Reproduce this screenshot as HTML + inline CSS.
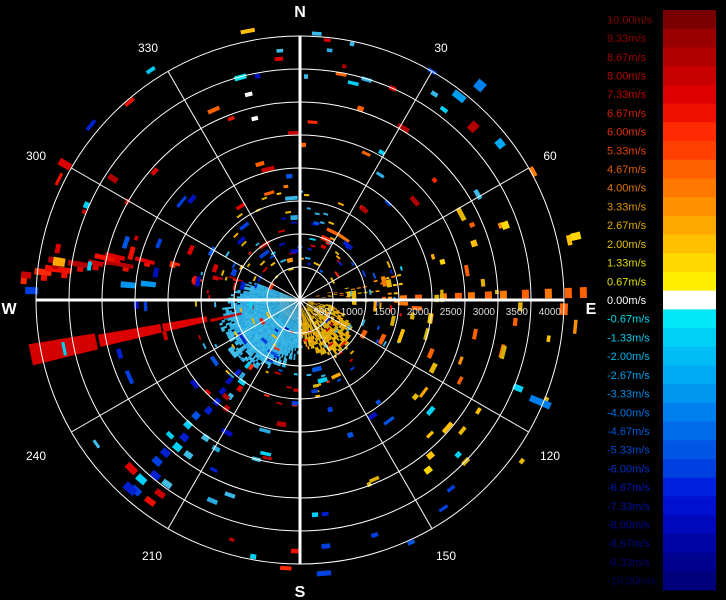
<!DOCTYPE html>
<html><head><meta charset="utf-8"><style>
html,body{margin:0;padding:0;background:#000;width:726px;height:600px;overflow:hidden}
svg{display:block}
text{font-family:"Liberation Sans",sans-serif}
</style></head><body>
<svg id="s" width="726" height="600" xmlns="http://www.w3.org/2000/svg">
<rect width="726" height="600" fill="#000"/>
<g id="data"></g>
<g id="grid" fill="none" stroke="#fff" stroke-width="1"></g>
<g id="lab" fill="#fff" font-size="12"></g>
<g id="cb"></g>
</svg>
<script>
var NS="http://www.w3.org/2000/svg",cx=300,cy=300;
function el(p,t,a,txt){var e=document.createElementNS(NS,t);for(var k in a)e.setAttribute(k,a[k]);if(txt!==undefined)e.textContent=txt;document.getElementById(p).appendChild(e);return e;}
function pt(az,r){var a=az*Math.PI/180;return [cx+r*Math.sin(a),cy-r*Math.cos(a)];}
function cell(az,da,r0,r1,c){var p=[pt(az-da/2,r0),pt(az+da/2,r0),pt(az+da/2,r1),pt(az-da/2,r1)];
el("data","polygon",{points:p.map(function(q){return q[0].toFixed(1)+","+q[1].toFixed(1)}).join(" "),fill:c});}
var seed=7;function rnd(){seed=(seed*16807)%2147483647;return seed/2147483647;}
var RED=["#c80000","#dd0000","#b00000","#f01000","#ff2a00"],ORG=["#ff6000","#ff7800","#ff9000"],YEL=["#e8b800","#ffc000","#e0b000","#ffa800","#d8b000"],CY=["#38b8e8","#30b0e8","#40bce8","#2aa8e0"],BL=["#0040e0","#0020d0","#0055e5","#0010c0","#00d0f5"];
function pick(a){return a[Math.floor(rnd()*a.length)];}
// cyan blob SW
for(var az=178;az<292;az+=1.5){var rm=48+32*Math.sin((az-178)/114*Math.PI)+rnd()*6;
for(var r=3;r<rm;r+=3){if(r<rm-10||rnd()<0.6)cell(az,1.7,r,r+3.2,r<20?"#58c0e8":pick(CY));}}
// yellow blob SE
for(var az=100;az<180;az+=2){var rm=30+32*Math.sin((az-100)/80*Math.PI)+rnd()*6;
for(var r=8;r<rm;r+=3){if(rnd()<0.75)cell(az,2,r,r+3.2,pick(YEL));}}
// yellow streaks east
for(var az=76;az<92;az+=2.5){for(var r=10;r<105;r+=6){if(rnd()<0.4)cell(az,1.2,r,r+4,pick(YEL.concat(ORG)));}}
// inner small dashes
for(var i=0;i<140;i++){var az=rnd()*360,r=30+rnd()*80;cell(az,(3+rnd()*4)/r*57.3,r,r+2,pick(CY.concat(BL,RED,YEL)));}
// long red bar WSW
cell(258.5,3.5,95,140,"#dd0000");cell(258.5,3.5,142,205,"#dd0000");cell(258.5,4.5,208,275,"#d40000");
cell(257,2,60,92,"#c80000");
// blue streak SW
for(var r=80;r<250;r+=12){cell(220+rnd()*4-2,2.5,r,r+7,pick(BL));if(rnd()<0.6)cell(214+rnd()*4,2.5,r,r+6,pick(RED.concat(CY)));}
[[100,"#ff7800"],[115,"#ff6000"],[140,"#ff7800"],[155,"#ff6000"],[168,"#ff7800"],[185,"#ff6000"],[200,"#ff7800"],[222,"#ff6000"],[245,"#ff7800"],[265,"#ff6000"],[280,"#ff6000"]].forEach(function(o){cell(88.5,2.2,o[0],o[0]+7,o[1]);});
cell(92,2,98,108,"#ff7800");cell(94,2,112,122,"#ff6000");cell(92,2.5,260,268,"#ff6000");
[[275,250,272],[276,230,262],[278,240,260],[280,170,200],[282,180,205],[281,190,215],[279,200,220],[283,150,175],[285,125,140],[280,100,115],[278,215,240],[274,270,285],[287,60,80],[284,80,95]].forEach(function(b){cell(b[0],1.4,b[1]+4,b[1]+10,pick(RED));cell(b[0]+1.2,1.4,b[1],b[2]-5,pick(RED));});
cell(279,2,238,250,"#ffa800");cell(272,1.5,262,275,"#0040e0");cell(276,2,145,160,"#0096f0");cell(275,2,165,180,"#0096f0");
for(var i=0;i<260;i++){var az=rnd()*360,r=25+Math.pow(rnd(),0.8)*250;var c;
if(az>60&&az<120)c=pick(YEL.concat(ORG));else if(az>=120&&az<180)c=pick(BL.concat(YEL));else if(az>=180&&az<250)c=pick(BL.concat(RED,CY));else if(az>=250&&az<330)c=pick(RED.concat(BL));else c=pick(BL.concat(RED,CY,ORG));
if(rnd()<0.4)continue;var tw=(4+rnd()*10)/r*57.3;cell(az,tw,r,r+3+rnd()*2,c);}
cell(38,3,255,262,"#00a0f0");cell(40,2,275,285,"#0080ee");cell(30,2,262,266,"#0040e0");cell(327,2,272,276,"#00c8f0");
cell(349,3,272,276,"#ffc000");cell(355,2,240,244,"#dd0000");cell(345,3,228,233,"#00e8f8");cell(346,2,210,214,"#ffffff");cell(346,2,185,189,"#ffffff");
cell(45,2,240,250,"#b00000");cell(52,2,250,258,"#00aaf0");cell(77,1.5,278,288,"#ffd800");
cell(70,2,215,222,"#ffd800");cell(72,2,180,186,"#ffc000");cell(75,2,145,150,"#ffd800");
cell(113,1.5,250,272,"#0080ee");cell(112,1.5,230,240,"#00d0f5");cell(140,2,200,206,"#ffc000");cell(143,2,210,216,"#ffd800");
cell(174,2,245,250,"#0040e0");cell(175,3,272,277,"#0040e0");cell(222,3,250,258,"#0020d0");cell(225,3,235,242,"#dd0000");
cell(300,1.5,265,278,"#dd0000");cell(303,1.5,218,228,"#b00000");
for(var k=1;k<=8;k++)el("grid","circle",{cx:cx,cy:cy,r:k*33});
for(var a=30;a<360;a+=30){if(a%90==0)continue;var p=pt(a,264);el("grid","line",{x1:cx,y1:cy,x2:p[0].toFixed(1),y2:p[1].toFixed(1)});}
el("grid","line",{x1:36,y1:300,x2:564,y2:300,"stroke-width":3});
el("grid","line",{x1:300,y1:36,x2:300,y2:564,"stroke-width":3});
var L=[["N",300,17,16,1],["E",591,314,16,1],["S",300,597,16,1],["W",9,314,16,1],["30",441,52,12],["60",550,160,12],["120",550,460,12],["150",446,560,12],["210",152,560,12],["240",36,460,12],["300",36,160,12],["330",148,52,12]];
L.forEach(function(l){el("lab","text",{x:l[1],y:l[2],"font-size":l[3],"text-anchor":"middle","font-weight":l[4]?"bold":"normal"},l[0]);});
["500","1000","1500","2000","2500","3000","3500","4000"].forEach(function(t,i){el("lab","text",{x:300+(i+1)*33-3,y:315,"font-size":10,"text-anchor":"end",fill:"#ddd"},t);});
var cols=["#7a0000","#990000","#b00000","#c80000","#dd0000","#f01000","#ff2a00","#ff4000","#ff6000","#ff7800","#ff9000","#ffa800","#ffc000","#ffd800","#ffee00","#ffffff","#00e8f8","#00d0f5","#00bef5","#00aaf5","#0096f0","#0080ee","#006ae8","#0055e5","#0040e0","#0020e0","#0010d0","#0008bb","#0004a5","#00028f","#00007a"];
var tc=["#800000","#900000","#a00000","#b00000","#c00000","#d02000","#e03000","#e04000","#e06000","#e07800","#e09000","#e0a800","#e0c000","#e0d800","#e0e000","#ffffff","#00d8e8","#00c8e8","#00b0e8","#00a0e8","#0088e0","#0070e0","#0058d8","#0048d0","#0030c8","#0018b8","#0010a0","#000890","#000880","#000070","#000060"];
var h=580/31;
cols.forEach(function(c,i){el("cb","rect",{x:663,y:(10+i*h).toFixed(2),width:53,height:(h+0.5).toFixed(2),fill:c});
var v=(10-i*0.6667).toFixed(2);if(v=="-0.00")v="0.00";el("cb","text",{x:607,y:(10+i*h+h/2+4).toFixed(1),"font-size":11,fill:tc[i]},v+"m/s");});
</script>
</body></html>
